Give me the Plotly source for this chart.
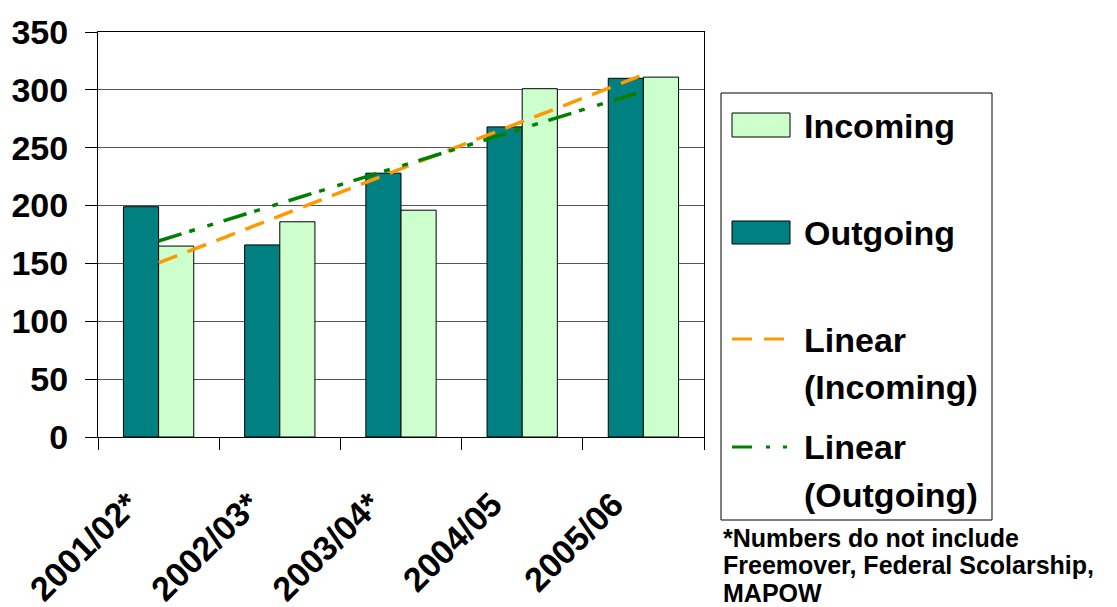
import numpy as np
import plotly.graph_objects as go

# ---- data ----
categories = ["2001/02*", "2002/03*", "2003/04*", "2004/05", "2005/06"]
outgoing = [199, 166, 228, 268, 310]
incoming = [165, 186, 196, 301, 311]
y_ticks = [0, 50, 100, 150, 200, 250, 300, 350]
legend_labels = ["Incoming", "Outgoing", ["Linear", "(Incoming)"], ["Linear", "(Outgoing)"]]
footnote_lines = ["*Numbers do not include", "Freemover, Federal Scolarship,", "MAPOW"]

# ---- styles ----
FONT = "Liberation Sans, Arial, sans-serif"
C_OUT = "#008080"
C_IN = "#CCFFCC"
C_TIN = "#FF9900"
C_TOUT = "#008000"
DASH_IN = "20px,11px"
DASH_OUT = "24px,8px,6px,13px,6px,11px"
DASH_OUT_LEG = "20px,14px,4px,13px,4px,13px"

W_FIG, H_FIG = 1117, 607
L, R, T, B = 98, 704, 32, 437

def px2x(px):
    return (px - L) / (R - L)

def py2y(py):
    return (B - py) / (B - T)

# trend lines (least squares on category index)
xi = np.arange(1, len(categories) + 1)
p_in = np.polyfit(xi, incoming, 1)
p_out = np.polyfit(xi, outgoing, 1)
trend_in = np.polyval(p_in, xi)
trend_out = np.polyval(p_out, xi)

fig = go.Figure()
fig.add_trace(go.Bar(name="Outgoing", x=categories, y=outgoing,
                     marker=dict(color=C_OUT, line=dict(color="black", width=1))))
fig.add_trace(go.Bar(name="Incoming", x=categories, y=incoming,
                     marker=dict(color=C_IN, line=dict(color="black", width=1))))
fig.add_trace(go.Scatter(name="Linear (Incoming)", x=categories, y=trend_in, mode="lines",
                         line=dict(color=C_TIN, width=3.5, dash=DASH_IN)))
fig.add_trace(go.Scatter(name="Linear (Outgoing)", x=categories, y=trend_out, mode="lines",
                         line=dict(color=C_TOUT, width=3.5, dash=DASH_OUT)))

fig.update_layout(
    width=W_FIG, height=H_FIG,
    margin=dict(l=L, r=W_FIG - R, t=T, b=H_FIG - B, autoexpand=False),
    paper_bgcolor="white", plot_bgcolor="white",
    showlegend=False,
    barmode="group", bargap=0.42, bargroupgap=0,
    font=dict(family=FONT, color="black"),
)
fig.update_yaxes(
    range=[0, 350], tickvals=y_ticks, ticks="outside", ticklen=12, tickcolor="black",
    showgrid=True, gridcolor="#555555", gridwidth=1,
    showline=True, linecolor="black", linewidth=1, mirror=True,
    zeroline=False,
    tickfont=dict(family=FONT, size=34, weight="bold", color="black"),
    ticklabelstandoff=10,
)
fig.update_xaxes(
    type="category", tickson="boundaries", ticks="outside", ticklen=12, tickcolor="black",
    showgrid=False, showline=True, linecolor="black", linewidth=1, mirror=True,
    tickangle=-45,
    tickfont=dict(family=FONT, size=34, weight="bold", color="black"),
    ticklabelshift=-30, ticklabelstandoff=33,
)

# ---- manual legend ----
shapes = []
annotations = []
shapes.append(dict(type="rect", xref="paper", yref="paper",
                   x0=px2x(721), x1=px2x(992), y0=py2y(93), y1=py2y(520),
                   line=dict(color="black", width=1), fillcolor="rgba(0,0,0,0)"))
# bar symbols
shapes.append(dict(type="rect", xref="paper", yref="paper",
                   x0=px2x(732), x1=px2x(790), y0=py2y(113), y1=py2y(137),
                   line=dict(color="black", width=1), fillcolor=C_IN))
shapes.append(dict(type="rect", xref="paper", yref="paper",
                   x0=px2x(732), x1=px2x(790), y0=py2y(221), y1=py2y(244),
                   line=dict(color="black", width=1), fillcolor=C_OUT))
# line symbols
shapes.append(dict(type="line", xref="paper", yref="paper",
                   x0=px2x(732), x1=px2x(787), y0=py2y(339), y1=py2y(339),
                   line=dict(color=C_TIN, width=3, dash="20px,12px")))
shapes.append(dict(type="line", xref="paper", yref="paper",
                   x0=px2x(732), x1=px2x(789), y0=py2y(447), y1=py2y(447),
                   line=dict(color=C_TOUT, width=3, dash=DASH_OUT_LEG)))

label_rows = [(legend_labels[0], 126), (legend_labels[1], 233),
              (legend_labels[2][0], 340), (legend_labels[2][1], 387),
              (legend_labels[3][0], 447), (legend_labels[3][1], 495)]
for txt, cy in label_rows:
    annotations.append(dict(xref="paper", yref="paper", x=px2x(802), y=py2y(cy),
                            xanchor="left", yanchor="middle", showarrow=False, text=txt,
                            font=dict(family=FONT, size=34, weight="bold", color="black")))

for txt, cy in zip(footnote_lines, [538, 565, 593]):
    annotations.append(dict(xref="paper", yref="paper", x=px2x(721), y=py2y(cy),
                            xanchor="left", yanchor="middle", showarrow=False, text=txt,
                            font=dict(family=FONT, size=25, weight="bold", color="black")))

fig.update_layout(shapes=shapes, annotations=annotations)
fig.write_html("out.html", config={"displayModeBar": False},
               post_script="document.body.style.margin='0';document.body.style.overflow='hidden';")
